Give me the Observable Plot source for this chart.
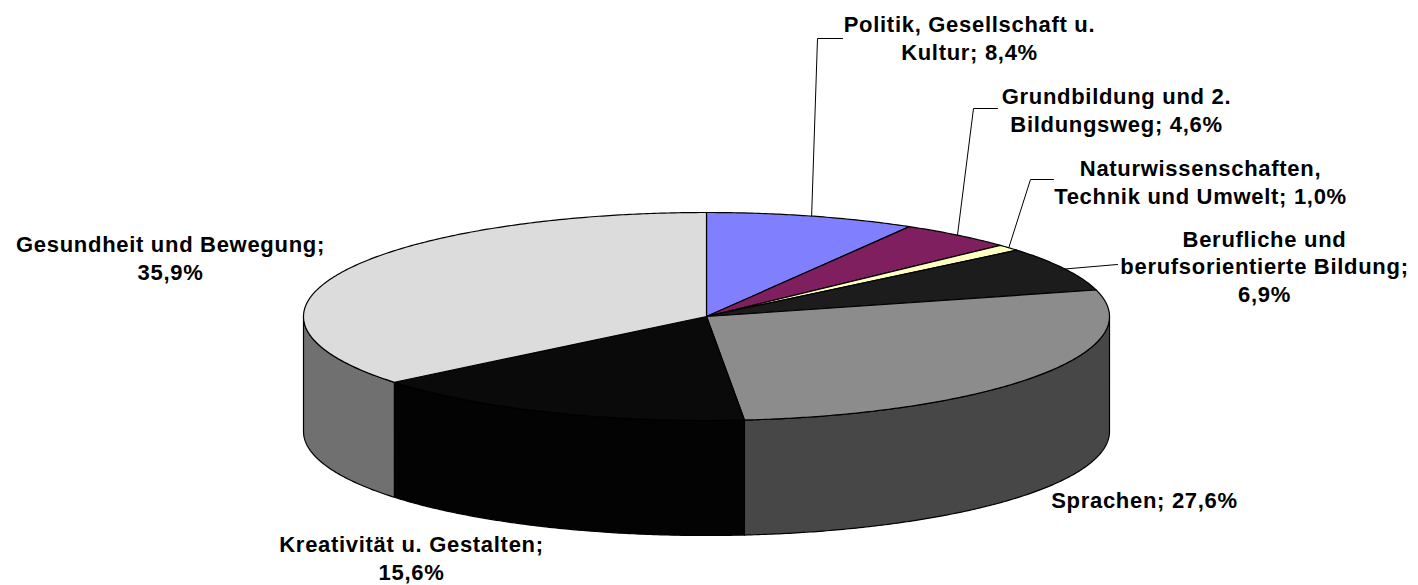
<!DOCTYPE html>
<html>
<head>
<meta charset="utf-8">
<script src="https://cdn.jsdelivr.net/npm/d3@7"></script>
<script src="https://cdn.jsdelivr.net/npm/@observablehq/plot@0.6"></script>
<style>
  html, body { margin: 0; padding: 0; background: #fff; }
  #chart svg { display: block; }
</style>
</head>
<body>
<div id="chart"></div>
<script>
// ---- data ----
const categories = [
  "Politik, Gesellschaft u. Kultur",
  "Grundbildung und 2. Bildungsweg",
  "Naturwissenschaften, Technik und Umwelt",
  "Berufliche und berufsorientierte Bildung",
  "Sprachen",
  "Kreativität u. Gestalten",
  "Gesundheit und Bewegung"
];
const values = [8.4, 4.6, 1.0, 6.9, 27.6, 15.6, 35.9];
const labelNames = [
  "Politik, Gesellschaft u.\nKultur",
  "Grundbildung und 2.\nBildungsweg",
  "Naturwissenschaften,\nTechnik und Umwelt",
  "Berufliche und\nberufsorientierte Bildung",
  "Sprachen",
  "Kreativität u. Gestalten",
  "Gesundheit und Bewegung"
];
const valueSeparators = ["; ", "; ", "; ", ";\n", "; ", ";\n", ";\n"];

// ---- styles / layout ----
const topColors  = ["#8080FF", "#7F1F5F", "#FFFFC0", "#1C1C1C", "#8C8C8C", "#0A0A0A", "#DCDCDC"];
const sideColors = ["#4040A0", "#40102F", "#A0A070", "#0E0E0E", "#474747", "#030303", "#707070"];
const W = 1418, H = 585;
const cx = 706, cy = 316, rx = 403, ry = 104, depth = 115;
const labelPos = [[969, 37], [1116, 109], [1200, 181], [1264, 265], [1144, 499], [411, 557], [170, 257]];
const leaderElbows = [
  [[817, 38], [842, 38]],
  [[973, 108], [997, 108]],
  [[1030, 179], [1053, 179]],
  [[1117, 264]],
  null, null, null
];

// ---- geometry from data ----
const total = d3.sum(values);
const deg = Math.PI / 180;
const pt = (t, dy = 0) => ({x: cx + rx * Math.sin(t), y: cy - ry * Math.cos(t) + dy});
function arc(a, b, dy = 0) {
  const n = Math.max(2, Math.ceil((b - a) / (0.5 * deg)));
  return d3.range(n + 1).map(i => pt(a + (b - a) * i / n, dy));
}
let acc = 0;
const slices = values.map((v, i) => {
  const a = acc / total * 2 * Math.PI;
  acc += v;
  const b = acc / total * 2 * Math.PI;
  return {i, a, b, mid: (a + b) / 2};
});

const marks = [];
// side walls (front half only: 90°..270°)
for (const s of slices) {
  const a = Math.max(s.a, 90 * deg), b = Math.min(s.b, 270 * deg);
  if (b <= a) continue;
  const poly = [...arc(a, b), ...arc(a, b, depth).reverse()];
  marks.push(Plot.line(poly, {x: "x", y: "y", curve: "linear-closed", fill: sideColors[s.i], stroke: "#000", strokeWidth: 1.2, strokeLinejoin: "round"}));
}
// top faces
for (const s of slices) {
  const poly = [{x: cx, y: cy}, ...arc(s.a, s.b)];
  marks.push(Plot.line(poly, {x: "x", y: "y", curve: "linear-closed", fill: topColors[s.i], stroke: "#000", strokeWidth: 1.2, strokeLinejoin: "round"}));
}
// leader lines
for (const s of slices) {
  const el = leaderElbows[s.i];
  if (!el) continue;
  const start = pt(s.mid);
  const pts = [start, ...el.map(([x, y]) => ({x, y}))];
  marks.push(Plot.line(pts, {x: "x", y: "y", stroke: "#000", strokeWidth: 1}));
}
// labels
const fmt = v => v.toFixed(1).replace(".", ",") + "%";
const labels = slices.map(s => ({
  x: labelPos[s.i][0], y: labelPos[s.i][1],
  text: labelNames[s.i] + valueSeparators[s.i] + fmt(values[s.i])
}));
marks.push(Plot.text(labels, {
  x: "x", y: "y", text: "text",
  textAnchor: "middle", lineAnchor: "middle", lineHeight: 1.27,
  fontSize: 22, fontWeight: "bold", fill: "#000"
}));

const chart = Plot.plot({
  width: W, height: H,
  margin: 0,
  x: {domain: [0, W], range: [0, W], axis: null},
  y: {domain: [0, H], range: [0, H], axis: null},
  style: {fontFamily: "'Liberation Sans', Arial, sans-serif", letterSpacing: "0.7px", background: "#fff", overflow: "visible"},
  marks
});
document.getElementById("chart").appendChild(chart);
</script>
</body>
</html>
